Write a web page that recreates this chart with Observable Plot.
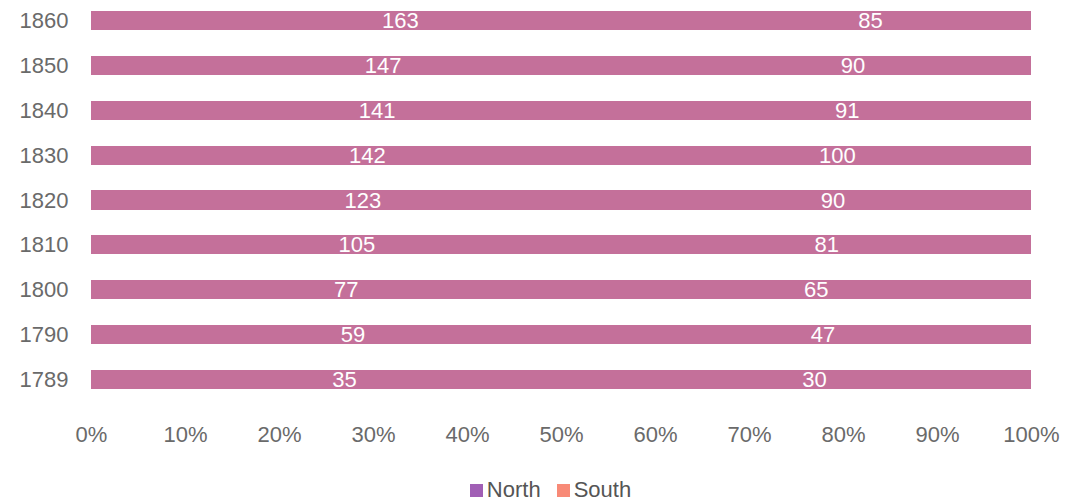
<!DOCTYPE html>
<html>
<head>
<meta charset="utf-8">
<script src="https://cdn.jsdelivr.net/npm/d3@7"></script>
<script src="https://cdn.jsdelivr.net/npm/@observablehq/plot@0.6"></script>
<style>
  html, body { margin: 0; padding: 0; background: #fff; }
  body { width: 1065px; height: 502px; overflow: hidden; font-family: "Liberation Sans", Arial, sans-serif; }
  #legend { display: flex; justify-content: center; align-items: center; gap: 16px; margin-top: 17px; padding-left: 36px; font-size: 22px; color: #555; }
  .item { display: flex; align-items: center; gap: 4px; }
  .sw { width: 13px; height: 13px; display: inline-block; }
</style>
</head>
<body>
<div id="chart"></div>
<div id="legend"></div>
<script>
const years = ["1789", "1790", "1800", "1810", "1820", "1830", "1840", "1850", "1860"];
const north = [35, 59, 77, 105, 123, 142, 141, 147, 163];
const south = [30, 47, 65, 81, 90, 100, 91, 90, 85];
const seriesNames = ["North", "South"];
const legendColors = ["#a15fb5", "#f88a77"];
const barColor = "#c4709a";
const xTicks = [0, 0.1, 0.2, 0.3, 0.4, 0.5, 0.6, 0.7, 0.8, 0.9, 1];

const rows = [];
years.forEach((y, i) => {
  rows.push({year: y, series: "North", value: north[i]});
  rows.push({year: y, series: "South", value: south[i]});
});

const stackOpts = {offset: "normalize", order: seriesNames};

const chart = Plot.plot({
  width: 1065,
  height: 460,
  marginLeft: 91,
  marginRight: 34,
  marginTop: 0,
  marginBottom: 60,
  style: {fontFamily: "Liberation Sans, Arial, sans-serif", fontSize: "22px", color: "#6a6a6a", background: "#fff"},
  x: {domain: [0, 1], ticks: xTicks, tickFormat: d => Math.round(d * 100) + "%", tickSize: 0, tickPadding: 26, label: null},
  y: {domain: years.slice().reverse(), round: false, paddingInner: 0.575, paddingOuter: 0.24, tickSize: 0, tickPadding: 23, label: null},
  marks: [
    Plot.barX(rows, Plot.stackX({...stackOpts, x: "value", y: "year", z: "series", fill: barColor, shapeRendering: "crispEdges"})),
    Plot.text(rows, Plot.stackX({...stackOpts, x: "value", y: "year", z: "series", text: d => String(d.value), fill: "white", fontSize: 22}))
  ]
});
document.getElementById("chart").appendChild(chart);

const legend = document.getElementById("legend");
seriesNames.forEach((name, i) => {
  const item = document.createElement("span");
  item.className = "item";
  const sw = document.createElement("span");
  sw.className = "sw";
  sw.style.background = legendColors[i];
  const label = document.createElement("span");
  label.textContent = name;
  item.appendChild(sw);
  item.appendChild(label);
  legend.appendChild(item);
});
</script>
</body>
</html>
